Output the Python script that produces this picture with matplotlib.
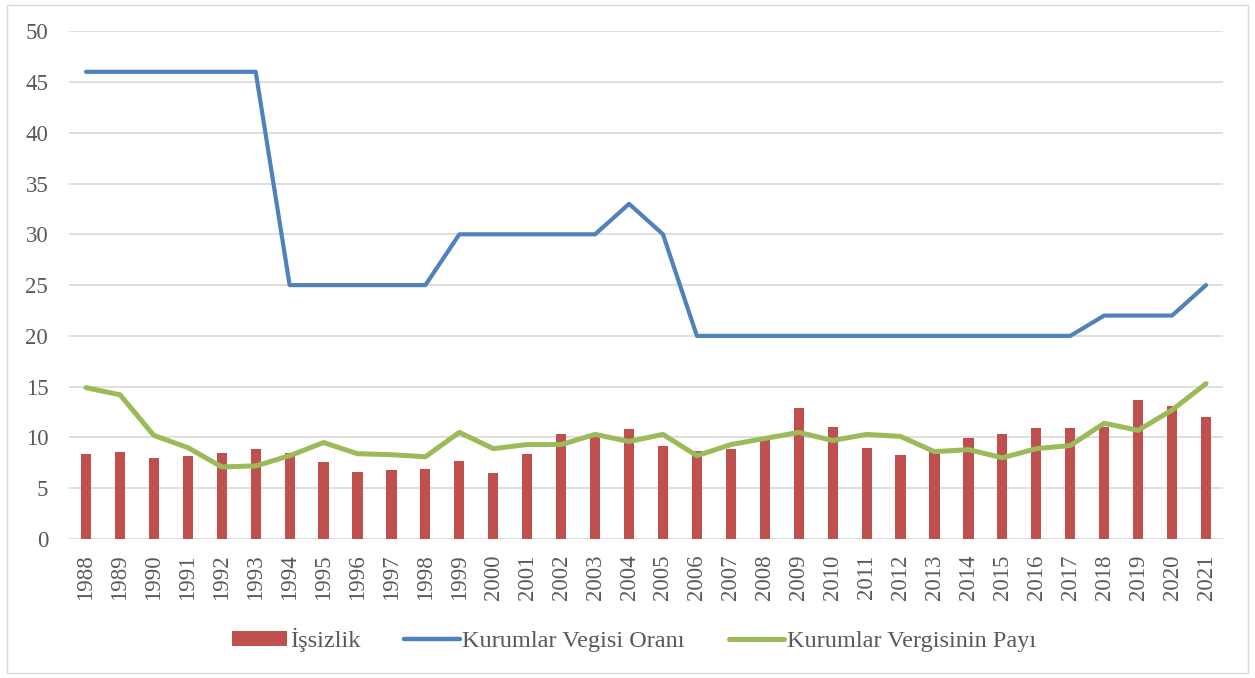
import matplotlib.pyplot as plt
from matplotlib.patches import Rectangle, Patch
from matplotlib.lines import Line2D

# --- Data ---
years = [str(y) for y in range(1988, 2022)]
issizlik = [8.4, 8.6, 8.0, 8.2, 8.5, 8.9, 8.5, 7.6, 6.6, 6.8, 6.9, 7.7,
            6.5, 8.4, 10.3, 10.3, 10.8, 9.2, 8.7, 8.9, 9.7, 12.9, 11.0, 9.0,
            8.3, 8.7, 9.9, 10.3, 10.9, 10.9, 11.0, 13.7, 13.1, 12.0]
vergi_orani = [46, 46, 46, 46, 46, 46, 25, 25, 25, 25, 25, 30,
               30, 30, 30, 30, 33, 30, 20, 20, 20, 20, 20, 20,
               20, 20, 20, 20, 20, 20, 22, 22, 22, 25]
vergi_payi = [14.9, 14.2, 10.2, 9.0, 7.1, 7.2, 8.2, 9.5, 8.4, 8.3, 8.1, 10.5,
              8.9, 9.3, 9.3, 10.3, 9.6, 10.3, 8.2, 9.3, 9.9, 10.5, 9.7, 10.3,
              10.1, 8.6, 8.8, 8.0, 8.9, 9.2, 11.4, 10.7, 12.7, 15.3]

RED = '#c0504d'
BLUE = '#4f81bd'
GREEN = '#9bbb59'
GRID = '#d9d9d9'
TXT = '#595959'

plt.rcParams['font.family'] = ['Liberation Serif', 'DejaVu Serif']

fig = plt.figure(figsize=(12.55, 6.78), dpi=100)
ax = fig.add_axes([0.055, 0.205, 0.9195, 0.749])

x = list(range(len(years)))
ax.bar(x, issizlik, width=0.3, color=RED, zorder=2)
ax.plot(x, vergi_orani, color=BLUE, linewidth=3, zorder=3, solid_capstyle='round')
ax.plot(x, vergi_payi, color=GREEN, linewidth=3.6, zorder=4, solid_capstyle='round')

ax.set_xlim(-0.5, len(years) - 0.5)
ax.set_ylim(0, 50)
ax.set_yticks(range(0, 51, 5))
ax.set_xticks(x)
ax.set_xticklabels(years, rotation=90)
ax.tick_params(axis='both', length=0, labelsize=16.5, colors=TXT)
ax.tick_params(axis='y', pad=15)
ax.tick_params(axis='x', pad=11)
ax.grid(axis='y', color=GRID, linewidth=1.2, zorder=0)
for s in ax.spines.values():
    s.set_visible(False)

handles = [Patch(facecolor=RED),
           Line2D([0], [0], color=BLUE, linewidth=3.2, solid_capstyle='round'),
           Line2D([0], [0], color=GREEN, linewidth=3.6, solid_capstyle='round')]
labels = ['İşsizlik', 'Kurumlar Vegisi Oranı', 'Kurumlar Vergisinin Payı']
fig.legend(handles, labels, loc='center', bbox_to_anchor=(0.505, 0.056), ncol=3,
           frameon=False, fontsize=17.5, labelcolor=TXT, handlelength=2.3,
           handleheight=0.6, handletextpad=0.1, columnspacing=1.8)

# outer chart border
fig.patches.append(Rectangle((7 / 1255, 5 / 678), 1241 / 1255, 668 / 678,
                             transform=fig.transFigure, fill=False,
                             edgecolor=GRID, linewidth=1))

fig.savefig('out.png', dpi=100)
